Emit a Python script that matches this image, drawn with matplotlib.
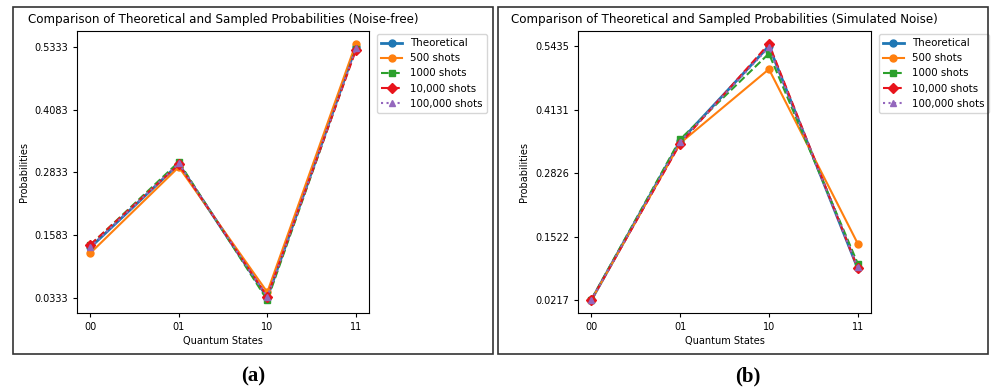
import numpy as np
import matplotlib
matplotlib.use("Agg")
import matplotlib.pyplot as plt
from matplotlib.patches import Rectangle

states = ["00", "01", "10", "11"]
labels = ["Theoretical", "500 shots", "1000 shots", "10,000 shots", "100,000 shots"]

# noise-free run
theo_a = [0.13333, 0.30000, 0.03333, 0.53333]
s500_a = [0.122, 0.294, 0.044, 0.540]
s1000_a = [0.138, 0.304, 0.028, 0.530]
s10k_a = [0.139, 0.299, 0.035, 0.527]
s100k_a = [0.134, 0.301, 0.034, 0.531]

# simulated noise run
theo_b = [0.02172, 0.34781, 0.54352, 0.08695]
s500_b = [0.022, 0.344, 0.496, 0.138]
s1000_b = [0.023, 0.352, 0.528, 0.097]
s10k_b = [0.022, 0.343, 0.548, 0.087]
s100k_b = [0.022, 0.347, 0.541, 0.089]

styles = [
    dict(marker="o", linestyle="-", color="#1f77b4", lw=2),
    dict(marker="o", linestyle="-", color="#ff7f0e", lw=1.5),
    dict(marker="s", linestyle="--", color="#2ca02c", lw=1.5),
    dict(marker="D", linestyle="--", color="#e8141c", lw=1.5),
    dict(marker="^", linestyle=":", color="#9467bd", lw=1.5),
]

fs = 7

fig = plt.figure(figsize=(9.94, 3.88), dpi=100)


def panel(rect, series, title):
    ax = fig.add_axes(rect)
    x = np.arange(len(states))
    for vals, lab, st in zip(series, labels, styles):
        ax.plot(x, vals, label=lab, markersize=5, **st)
    theo = series[0]
    ticks = np.linspace(min(theo), max(theo), 5)
    ax.set_yticks(ticks)
    ax.set_yticklabels(["%.4f" % t for t in ticks], fontsize=fs)
    ax.set_xticks(x)
    ax.set_xticklabels(states, fontsize=fs)
    ax.tick_params(length=3)
    ax.set_xlabel("Quantum States", fontsize=fs, labelpad=3)
    ax.set_ylabel("Probabilities", fontsize=fs, labelpad=4)
    ax.set_title(title, fontsize=8.6, pad=6)
    ax.legend(loc="upper left", bbox_to_anchor=(1.017, 1.0), fontsize=7.4,
              handlelength=2, borderaxespad=0.3)
    return ax


panel([0.0775, 0.1933, 0.2938, 0.7268],
      [theo_a, s500_a, s1000_a, s10k_a, s100k_a],
      "Comparison of Theoretical and Sampled Probabilities (Noise-free)")
panel([0.5815, 0.1933, 0.2948, 0.7268],
      [theo_b, s500_b, s1000_b, s10k_b, s100k_b],
      "Comparison of Theoretical and Sampled Probabilities (Simulated Noise)")

# panel frames
for x0, x1 in [(13, 493), (498, 988)]:
    fig.patches.append(Rectangle((x0 / 994, 1 - 354 / 388), (x1 - x0) / 994, (354 - 7) / 388,
                                 transform=fig.transFigure, fill=False,
                                 edgecolor="#333333", lw=1.2))

fig.text(253 / 994, 1 - 376 / 388, "(a)", ha="center", va="center",
         fontsize=15, fontweight="bold", family="Liberation Serif")
fig.text(748 / 994, 1 - 376 / 388, "(b)", ha="center", va="center",
         fontsize=15, fontweight="bold", family="Liberation Serif")

fig.savefig("out.png", dpi=100)
